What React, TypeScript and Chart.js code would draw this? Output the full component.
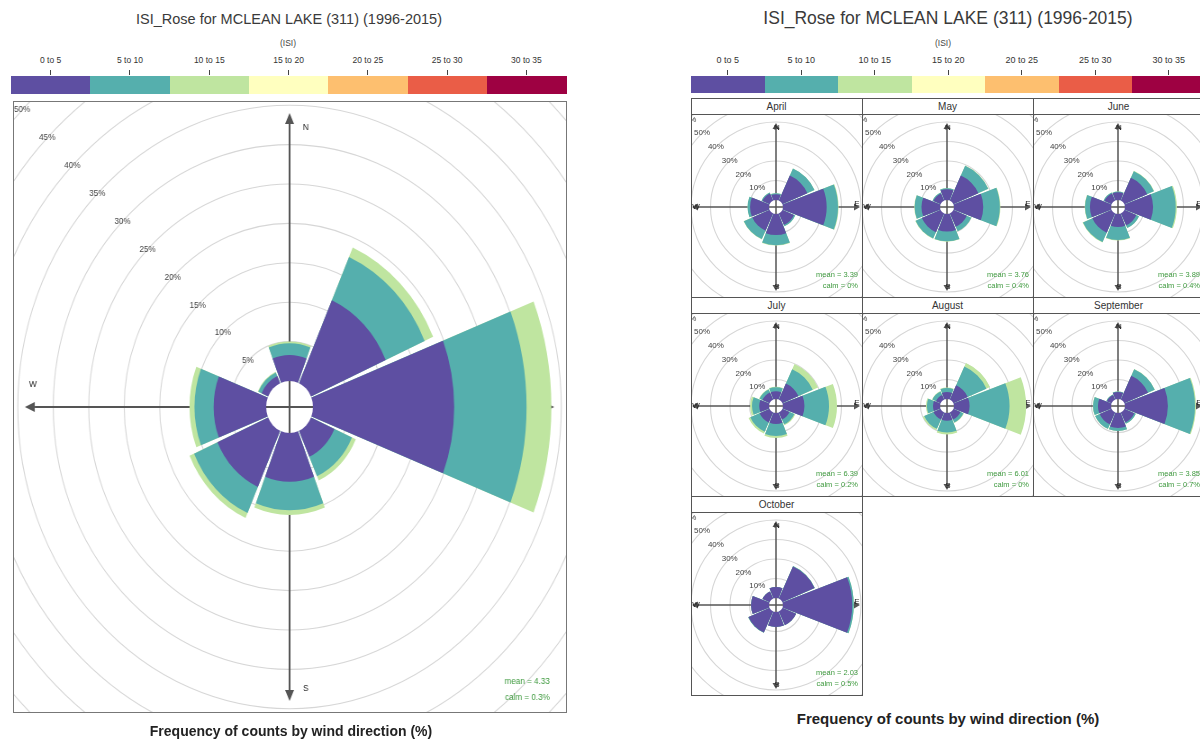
import React, { useEffect, useRef } from "react";
import { Chart, registerables } from "chart.js";

Chart.register(...registerables);

// ---------- text ----------
const TITLE = "ISI_Rose for MCLEAN LAKE (311) (1996-2015)";
const UNITS = "(ISI)";
const X_TITLE = "Frequency of counts by wind direction (%)";

// ---------- categories ----------
const DIRECTIONS = ["N", "NE", "E", "SE", "S", "SW", "W", "NW"];
const ISI_BANDS = ["0 to 5", "5 to 10", "10 to 15", "15 to 20", "20 to 25", "25 to 30", "30 to 35"];
const BAND_COLORS = ["#5E4FA2", "#55AFAD", "#BFE5A0", "#FFFFBF", "#FDBF6F", "#EA5D47", "#9E0142"];

// ---------- all months (left rose), % of counts per direction and ISI band ----------
const ALL_ISI_0_5 = [3.3, 11.5, 19.9, 3.6, 6.2, 7.8, 7.4, 1.0];
const ALL_ISI_5_10 = [1.5, 6.0, 10.2, 2.7, 3.6, 3.6, 2.7, 0.5];
const ALL_ISI_10_15 = [0.2, 1.3, 3.5, 0.6, 0.6, 0.7, 0.7, 0.1];
const ALL_MEAN = "4.33";
const ALL_CALM = "0.3%";
const ALL_PERCENT_TICKS = [5, 10, 15, 20, 25, 30, 35, 40, 45, 50];

// ---------- monthly roses ----------
const MONTHS = ["April", "May", "June", "July", "August", "September", "October"];

const APR_ISI_0_5 = [3.0, 14.0, 22.4, 6.5, 10.8, 9.7, 9.7, 4.0];
const APR_ISI_5_10 = [0.5, 4.0, 5.8, 0.7, 5.2, 4.7, 1.3, 0.5];
const APR_ISI_10_15 = [0, 0, 0.3, 0, 0.2, 0.2, 0, 0];

const MAY_ISI_0_5 = [5.5, 14.0, 15.0, 7.5, 9.0, 10.5, 9.5, 4.0];
const MAY_ISI_5_10 = [0.5, 5.5, 8.5, 2.5, 5.0, 3.5, 3.5, 0.5];
const MAY_ISI_10_15 = [0, 0.2, 0.3, 0, 0.2, 0.2, 0.2, 0];

const JUN_ISI_0_5 = [4.0, 12.8, 14.4, 6.7, 6.7, 10.8, 10.8, 4.0];
const JUN_ISI_5_10 = [0.3, 3.7, 11.6, 1.5, 6.6, 5.2, 2.5, 0.5];
const JUN_ISI_10_15 = [0, 0.2, 0.6, 0, 0.3, 0.3, 0.2, 0];

const JUL_ISI_0_5 = [4.0, 9.0, 11.0, 4.0, 5.6, 5.6, 5.0, 4.0];
const JUL_ISI_5_10 = [2.0, 8.0, 12.6, 2.7, 6.2, 5.2, 3.7, 1.6];
const JUL_ISI_10_15 = [0.3, 3.0, 4.1, 0.5, 1.0, 1.0, 1.0, 0.3];

const AUG_ISI_0_5 = [3.6, 8.0, 8.0, 4.0, 4.0, 4.0, 3.6, 2.6];
const AUG_ISI_5_10 = [2.0, 10.5, 20.5, 1.6, 6.0, 5.2, 3.1, 2.0];
const AUG_ISI_10_15 = [0.3, 2.0, 8.5, 0.3, 1.0, 0.8, 0.5, 0.2];

const SEP_ISI_0_5 = [3.6, 13.3, 22.0, 5.6, 7.7, 6.7, 6.7, 2.6];
const SEP_ISI_5_10 = [0.3, 3.7, 13.9, 0.8, 1.5, 2.5, 2.5, 0.3];
const SEP_ISI_10_15 = [0, 0.1, 0.5, 0, 0, 0.1, 0.1, 0];

const OCT_ISI_0_5 = [5.6, 18.0, 35.5, 7.7, 7.7, 11.8, 9.2, 4.0];
const OCT_ISI_5_10 = [0, 0.2, 0.8, 0, 0, 0.2, 0, 0];
const OCT_ISI_10_15 = [0, 0, 0, 0, 0, 0, 0, 0];

const MONTH_MEANS = ["3.39", "3.76", "3.89", "6.39", "6.01", "3.85", "2.03"];
const MONTH_CALMS = ["0%", "0.4%", "0.4%", "0.2%", "0%", "0.7%", "0.5%"];
const MONTH_PERCENT_TICKS = [10, 20, 30, 40, 50, 60];

const MONTH_BANDS = [
  [APR_ISI_0_5, APR_ISI_5_10, APR_ISI_10_15],
  [MAY_ISI_0_5, MAY_ISI_5_10, MAY_ISI_10_15],
  [JUN_ISI_0_5, JUN_ISI_5_10, JUN_ISI_10_15],
  [JUL_ISI_0_5, JUL_ISI_5_10, JUL_ISI_10_15],
  [AUG_ISI_0_5, AUG_ISI_5_10, AUG_ISI_10_15],
  [SEP_ISI_0_5, SEP_ISI_5_10, SEP_ISI_10_15],
  [OCT_ISI_0_5, OCT_ISI_5_10, OCT_ISI_10_15],
];

// ---------- style ----------
const FONT = '"Liberation Sans", Arial, Helvetica, sans-serif';
const WEDGE_DEG = 42.5;
const GAP_DEG = 2.5;
const GRID_COLOR = "#d6d6d6";
const AXIS_COLOR = "#555555";
const STATS_COLOR = "#3f9a3f";

type RoseProps = {
  bands: number[][];
  ticks: number[];
  mean: string;
  calm: string;
  x: number;
  y: number;
  w: number;
  h: number;
  cssW: number;
  pad: { left: number; right: number; top: number; bottom: number };
  min: number;
  max: number;
  axisMax: number;
  font: number;
  axisWidth: number;
  arrowLen: number;
  arrowHalf: number;
  dirOffsets: { [k: string]: [number, number] };
  statsX: number;
  statsY: number;
  statsDy: number;
  statsFont: number;
};

function Rose(p: RoseProps) {
  const ref = useRef<HTMLCanvasElement>(null);
  useEffect(() => {
    const canvas = ref.current;
    if (!canvas) return;
    const cumulative = p.bands.map((_, bi) =>
      DIRECTIONS.map((_, di) => p.bands.slice(0, bi + 1).reduce((s, b) => s + b[di], 0))
    );
    const labels = DIRECTIONS.flatMap((d) => [d, ""]);
    const datasets = cumulative.map((vals, bi) => ({
      label: ISI_BANDS[bi],
      data: vals.flatMap((v) => [v, p.min]),
      backgroundColor: BAND_COLORS[bi],
      borderWidth: 0,
      angle: (c: any) => (c.dataIndex % 2 === 0 ? WEDGE_DEG : GAP_DEG),
    }));

    const tips: [number, number][] = [
      [0, -1],
      [1, 0],
      [0, 1],
      [-1, 0],
    ];
    const tipNames = ["N", "E", "S", "W"];

    const plugin = {
      id: "roseDecor",
      beforeDatasetsDraw(chart: any) {
        const s = chart.scales.r;
        const ctx = chart.ctx as CanvasRenderingContext2D;
        const cx = s.xCenter;
        const cy = s.yCenter;
        const R = (v: number) => s.getDistanceFromCenterForValue(v);
        ctx.save();
        ctx.strokeStyle = GRID_COLOR;
        ctx.lineWidth = 1.1;
        p.ticks.forEach((v) => {
          ctx.beginPath();
          ctx.arc(cx, cy, R(v), 0, Math.PI * 2);
          ctx.stroke();
        });
        const L = R(p.axisMax);
        ctx.strokeStyle = AXIS_COLOR;
        ctx.lineWidth = p.axisWidth;
        ctx.beginPath();
        ctx.moveTo(cx - L + p.arrowLen, cy);
        ctx.lineTo(cx + L - p.arrowLen, cy);
        ctx.moveTo(cx, cy - L + p.arrowLen);
        ctx.lineTo(cx, cy + L - p.arrowLen);
        ctx.stroke();
        ctx.fillStyle = AXIS_COLOR;
        tips.forEach(([dx, dy]) => {
          const tx = cx + dx * L;
          const ty = cy + dy * L;
          const bx = tx - dx * p.arrowLen;
          const by = ty - dy * p.arrowLen;
          ctx.beginPath();
          ctx.moveTo(tx, ty);
          ctx.lineTo(bx - dy * p.arrowHalf, by + dx * p.arrowHalf);
          ctx.lineTo(bx + dy * p.arrowHalf, by - dx * p.arrowHalf);
          ctx.closePath();
          ctx.fill();
        });
        ctx.fillStyle = "#222";
        ctx.font = `${p.font}px ${FONT}`;
        ctx.textAlign = "center";
        ctx.textBaseline = "middle";
        tips.forEach(([dx, dy], i) => {
          const name = tipNames[i];
          const off = p.dirOffsets[name];
          ctx.fillText(name, cx + dx * L + off[0], cy + dy * L + off[1]);
        });
        ctx.restore();
      },
      afterDatasetsDraw(chart: any) {
        const s = chart.scales.r;
        const ctx = chart.ctx as CanvasRenderingContext2D;
        const cx = s.xCenter;
        const cy = s.yCenter;
        const R = (v: number) => s.getDistanceFromCenterForValue(v);
        const r0 = R(0);
        ctx.save();
        ctx.fillStyle = "#ffffff";
        ctx.beginPath();
        ctx.arc(cx, cy, r0, 0, Math.PI * 2);
        ctx.fill();
        ctx.strokeStyle = AXIS_COLOR;
        ctx.lineWidth = p.axisWidth;
        ctx.beginPath();
        ctx.moveTo(cx - r0, cy);
        ctx.lineTo(cx + r0, cy);
        ctx.moveTo(cx, cy - r0);
        ctx.lineTo(cx, cy + r0);
        ctx.stroke();
        ctx.fillStyle = "#444";
        ctx.font = `${p.font}px ${FONT}`;
        ctx.textAlign = "center";
        ctx.textBaseline = "middle";
        p.ticks.forEach((v) => {
          const r = R(v);
          ctx.fillText(`${v}%`, cx - r * Math.SQRT1_2, cy - r * Math.SQRT1_2);
        });
        ctx.fillStyle = STATS_COLOR;
        ctx.font = `${p.statsFont}px ${FONT}`;
        ctx.textAlign = "right";
        ctx.fillText(`mean = ${p.mean}`, p.statsX, p.statsY);
        ctx.fillText(`calm = ${p.calm}`, p.statsX, p.statsY + p.statsDy);
        ctx.restore();
      },
    };

    const chart = new Chart(canvas, {
      type: "polarArea",
      data: { labels, datasets: datasets as any },
      options: {
        responsive: false,
        animation: false,
        layout: { padding: p.pad },
        plugins: { legend: { display: false }, tooltip: { enabled: false } },
        scales: {
          r: {
            min: p.min,
            max: p.max,
            startAngle: -WEDGE_DEG / 2,
            grid: { display: false },
            angleLines: { display: false },
            pointLabels: { display: false },
            ticks: { display: false },
          },
        },
      } as any,
      plugins: [plugin as any],
    });
    return () => chart.destroy();
  }, []);
  return (
    <canvas
      ref={ref}
      width={p.w}
      height={p.h}
      style={{ position: "absolute", left: p.x, top: p.y, width: p.cssW, height: p.h }}
    />
  );
}

function Txt(props: { x: number; y: number; size: number; bold?: boolean; color?: string; children: any }) {
  return (
    <div
      style={{
        position: "absolute",
        left: props.x,
        top: props.y,
        transform: "translate(-50%, -50%)",
        whiteSpace: "nowrap",
        lineHeight: 1,
        fontSize: props.size,
        fontWeight: props.bold ? "bold" : "normal",
        color: props.color || "#333",
        fontFamily: FONT,
      }}
    >
      {props.children}
    </div>
  );
}

function ColorKey(props: { x: number; segW: number; barY: number; barH: number; labelY: number; labelSize: number }) {
  return (
    <>
      {ISI_BANDS.map((b, i) => {
        const cxm = props.x + props.segW * (i + 0.5);
        return (
          <React.Fragment key={b}>
            <div
              style={{
                position: "absolute",
                left: props.x + props.segW * i,
                top: props.barY,
                width: props.segW + 0.5,
                height: props.barH,
                background: BAND_COLORS[i],
              }}
            />
            <div
              style={{
                position: "absolute",
                left: cxm - 0.5,
                top: props.barY - 6,
                width: 1,
                height: 5,
                background: "#444",
              }}
            />
            <Txt x={cxm} y={props.labelY} size={props.labelSize} color="#333">
              {b}
            </Txt>
          </React.Fragment>
        );
      })}
    </>
  );
}

const LEFT_BOX = { x: 14, y: 102, w: 552, h: 610 };
const SQUASH = 0.9;
const LEFT_SCALE_OFFSET = 26;
const LEFT_PX_PER_PCT = 7.88;

const SMALL = { x0: 691, y0: 98, colW: 171, rowH: 199, stripH: 16, panelH: 183 };
const SMALL_OFFSET = 7;
const SMALL_PX_PER_PCT = 1.95;

export default function App() {
  const leftCanvasW = Math.round(LEFT_BOX.w / SQUASH);
  const leftDA = Math.floor(Math.min(leftCanvasW, LEFT_BOX.h) / 2);
  const leftMin = -LEFT_SCALE_OFFSET / LEFT_PX_PER_PCT;
  const leftMax = leftMin + leftDA / LEFT_PX_PER_PCT;

  const smallDA = Math.floor(SMALL.colW / 2);
  const smallMin = -SMALL_OFFSET / SMALL_PX_PER_PCT;
  const smallMax = smallMin + smallDA / SMALL_PX_PER_PCT;

  return (
    <div
      style={{
        position: "absolute",
        left: 0,
        top: 0,
        width: 1200,
        height: 744,
        overflow: "hidden",
        background: "#fff",
        fontFamily: FONT,
      }}
    >
      {/* ---------- left panel ---------- */}
      <Txt x={289} y={19} size={14.5} color="#3a3a3a">
        {TITLE}
      </Txt>
      <Txt x={288} y={43} size={8.5} color="#444">
        {UNITS}
      </Txt>
      <ColorKey x={11} segW={79.3} barY={76} barH={18} labelY={60} labelSize={8.5} />
      <Rose
        bands={[ALL_ISI_0_5, ALL_ISI_5_10, ALL_ISI_10_15]}
        ticks={ALL_PERCENT_TICKS}
        mean={ALL_MEAN}
        calm={ALL_CALM}
        x={LEFT_BOX.x}
        y={LEFT_BOX.y}
        w={leftCanvasW}
        h={LEFT_BOX.h}
        cssW={LEFT_BOX.w}
        pad={{ left: 0, right: 0, top: 0, bottom: 0 }}
        min={leftMin}
        max={leftMax}
        axisMax={34}
        font={9}
        axisWidth={2}
        arrowLen={11}
        arrowHalf={5}
        dirOffsets={{ N: [18, 14], E: [-12, -22], S: [18, -12], W: [9, -22] }}
        statsX={leftCanvasW - 18}
        statsY={580}
        statsDy={16}
        statsFont={9}
      />
      <div
        style={{
          position: "absolute",
          left: LEFT_BOX.x - 1,
          top: LEFT_BOX.y - 1,
          width: LEFT_BOX.w + 2,
          height: LEFT_BOX.h + 2,
          border: "1.5px solid #777",
          boxSizing: "border-box",
        }}
      />
      <Txt x={291} y={731} size={14} bold color="#222">
        {X_TITLE}
      </Txt>

      {/* ---------- right panel ---------- */}
      <Txt x={948} y={19} size={17.5} color="#3a3a3a">
        {TITLE}
      </Txt>
      <Txt x={943} y={43} size={8.5} color="#444">
        {UNITS}
      </Txt>
      <ColorKey x={691} segW={73.5} barY={76} barH={17} labelY={60} labelSize={9} />
      {MONTHS.map((m, i) => {
        const col = i % 3;
        const row = Math.floor(i / 3);
        const px = SMALL.x0 + col * SMALL.colW;
        const py = SMALL.y0 + row * SMALL.rowH;
        return (
          <React.Fragment key={m}>
            <div
              style={{
                position: "absolute",
                left: px,
                top: py,
                width: SMALL.colW + 1,
                height: SMALL.stripH + 1,
                border: "1.5px solid #555",
                boxSizing: "border-box",
                background: "#fff",
              }}
            />
            <Txt x={px + SMALL.colW / 2} y={py + SMALL.stripH / 2 + 0.5} size={10} color="#333">
              {m}
            </Txt>
            <Rose
              bands={MONTH_BANDS[i]}
              ticks={MONTH_PERCENT_TICKS}
              mean={MONTH_MEANS[i]}
              calm={MONTH_CALMS[i]}
              x={px}
              y={py + SMALL.stripH}
              w={SMALL.colW}
              h={SMALL.panelH}
              cssW={SMALL.colW}
              pad={{ left: 0, right: 0, top: 3, bottom: 0 }}
              min={smallMin}
              max={smallMax}
              axisMax={39.5}
              font={8}
              axisWidth={1.5}
              arrowLen={6}
              arrowHalf={3.5}
              dirOffsets={{ N: [1, 5], E: [-3, -3], S: [1, -4], W: [4, 0] }}
              statsX={SMALL.colW - 4}
              statsY={161}
              statsDy={11}
              statsFont={7.5}
            />
            <div
              style={{
                position: "absolute",
                left: px,
                top: py + SMALL.stripH,
                width: SMALL.colW + 1,
                height: SMALL.panelH + 1,
                border: "1.5px solid #555",
                boxSizing: "border-box",
              }}
            />
          </React.Fragment>
        );
      })}
      <Txt x={948} y={718} size={15} bold color="#222">
        {X_TITLE}
      </Txt>
    </div>
  );
}
